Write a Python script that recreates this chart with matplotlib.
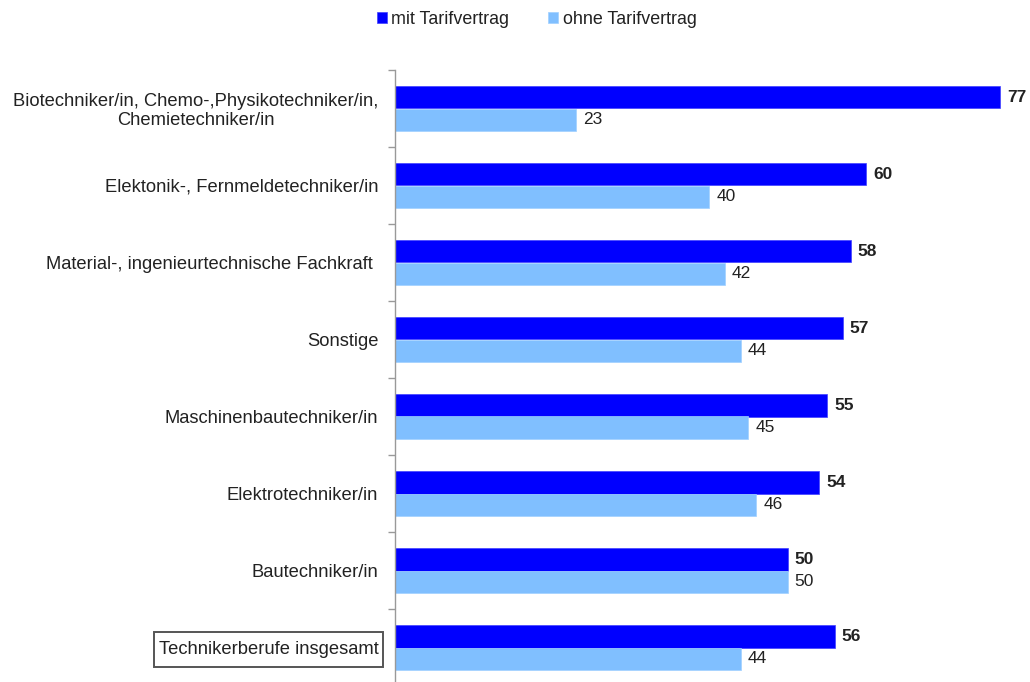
import matplotlib.pyplot as plt
from matplotlib.patches import Rectangle
import numpy as np

plt.rcParams['font.family'] = ['Liberation Sans', 'DejaVu Sans']

categories = [
    "Biotechniker/in, Chemo-,Physikotechniker/in,\nChemietechniker/in",
    "Elektonik-, Fernmeldetechniker/in",
    "Material-, ingenieurtechnische Fachkraft ",
    "Sonstige",
    "Maschinenbautechniker/in",
    "Elektrotechniker/in",
    "Bautechniker/in",
    "Technikerberufe insgesamt",
]
mit = [77, 60, 58, 57, 55, 54, 50, 56]
ohne = [23, 40, 42, 44, 45, 46, 50, 44]
series_names = ["mit Tarifvertrag", "ohne Tarifvertrag"]

dark = "#0000FF"
light = "#80BFFF"
txt = "#222222"

fig = plt.figure(figsize=(10.3, 6.82), dpi=100)
W, H = 1030, 682
ax = fig.add_axes([395 / W, (H - 686) / H, 615 / W, 616 / H])

y = np.arange(len(categories))
h = 0.29
b1 = ax.barh(y - h / 2, mit, height=h, color=dark, edgecolor="#4040ff", linewidth=0.5, label=series_names[0])
b2 = ax.barh(y + h / 2, ohne, height=h, color=light, edgecolor="#a0d0ff", linewidth=0.5, label=series_names[1])

for yy, v in zip(y, mit):
    ax.text(v + 0.9, yy - h / 2, str(v), va="center", ha="left", fontsize=12.5, fontweight="bold", color=txt)
for yy, v in zip(y, ohne):
    ax.text(v + 0.9, yy + h / 2, str(v), va="center", ha="left", fontsize=12.5, color=txt)

ax.set_xlim(0, 78.3)
ax.set_ylim(len(categories) - 0.5, -0.5)

# group separators as major ticks, category names as minor ticks
ax.set_yticks(np.arange(-0.5, len(categories), 1.0))
ax.set_yticklabels([])
ax.tick_params(axis="y", which="major", length=5, color="#999999", width=1)
ax.set_yticks(y, minor=True)
ax.set_yticklabels(categories, minor=True, fontsize=13.2, color=txt, ha="right",
                   multialignment="center", linespacing=1.1)
ax.tick_params(axis="y", which="minor", length=0, pad=12)

ax.set_xticks([])
for s in ["top", "right", "bottom"]:
    ax.spines[s].set_visible(False)
ax.spines["left"].set_color("#999999")
ax.spines["left"].set_linewidth(1)

leg = fig.legend(handles=[b1, b2], labels=series_names, loc="upper center", bbox_to_anchor=(0.521, 1.008),
                 ncol=2, frameon=False, fontsize=12.9, handlelength=0.55, handleheight=0.55,
                 handletextpad=0.25, columnspacing=2.2)
for t in leg.get_texts():
    t.set_color(txt)

# frame around the total label
fig.canvas.draw()
bb = ax.get_yticklabels(minor=True)[-1].get_window_extent()
px, py = 5, 9
fig.patches.append(Rectangle(((bb.x0 - px) / W, (bb.y0 - py) / H), (bb.width + 2 * px) / W,
                             (bb.height + 2 * py) / H, transform=fig.transFigure, fill=False,
                             edgecolor="#555555", linewidth=1.4))

fig.savefig("out.png", dpi=100)
